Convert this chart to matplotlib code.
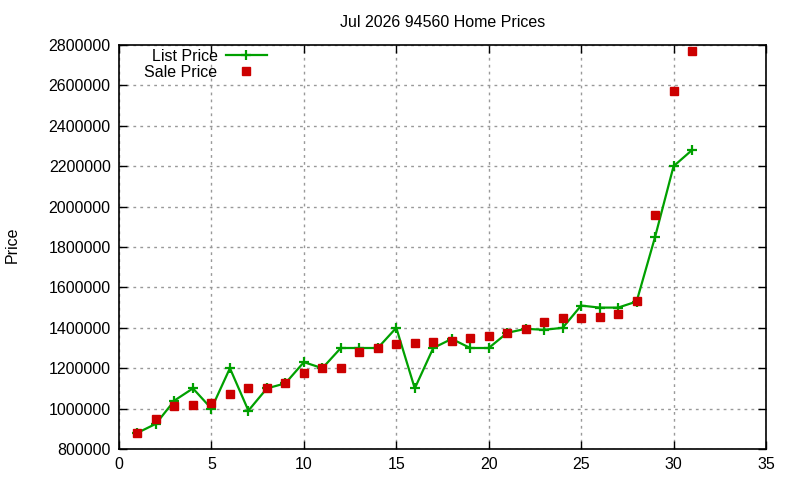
import matplotlib
matplotlib.use("Agg")
import matplotlib.pyplot as plt

days = list(range(1, 32))
list_price = [880000, 925000, 1040000, 1100000, 1000000, 1200000, 990000, 1100000, 1125000, 1230000,
              1200000, 1300000, 1300000, 1300000, 1400000, 1100000, 1300000, 1345000, 1300000, 1300000,
              1375000, 1395000, 1390000, 1400000, 1510000, 1500000, 1500000, 1530000, 1850000, 2200000,
              2280000]
sale_price = [880000, 950000, 1015000, 1020000, 1030000, 1070000, 1100000, 1100000, 1125000, 1175000,
              1200000, 1200000, 1280000, 1300000, 1320000, 1325000, 1330000, 1335000, 1350000, 1360000,
              1375000, 1395000, 1430000, 1450000, 1450000, 1455000, 1470000, 1535000, 1960000, 2570000,
              2770000]
x_ticks = list(range(0, 36, 5))
y_ticks = list(range(800000, 2800001, 200000))
title = "Jul 2026 94560 Home Prices"

plt.rcParams['font.family'] = ['Liberation Sans', 'DejaVu Sans']
fig = plt.figure(figsize=(8, 4.8), dpi=100)
ax = fig.add_axes([119/800, 1-449/480, (766-119)/800, (449-45)/480])

green = '#00a000'
red = '#cc0000'
ax.plot(days, list_price, color=green, lw=1.6, marker='+', ms=7, mew=1.6, label='List Price')
ax.plot(days, sale_price, ls='none', color=red, marker='s', ms=5.8, label='Sale Price')

ax.set_xlim(0, 35)
ax.set_ylim(800000, 2800000)
ax.set_xticks(x_ticks)
ax.set_yticks(y_ticks)
ax.set_yticklabels([str(v) for v in y_ticks])
ax.tick_params(direction='in', length=6, width=1, top=True, right=True, labelsize=11.5, pad=6, colors='black')
ax.grid(True, color='#999999', ls=(0, (2, 3)), lw=1)
ax.set_axisbelow(True)
for s in ax.spines.values():
    s.set_linewidth(1.2)

ax.set_title(title, fontsize=11.5, pad=13)
fig.text(12/800, 1-245/480, 'Price', rotation=90, fontsize=11.5, ha='center', va='center')

leg = ax.legend(loc='upper left', bbox_to_anchor=(0.022, 1.018), frameon=False, markerfirst=False,
                fontsize=11.5, handlelength=2.6, handletextpad=0.5, labelspacing=0.05, borderpad=0.2)

fig.savefig('out.png', dpi=100)
